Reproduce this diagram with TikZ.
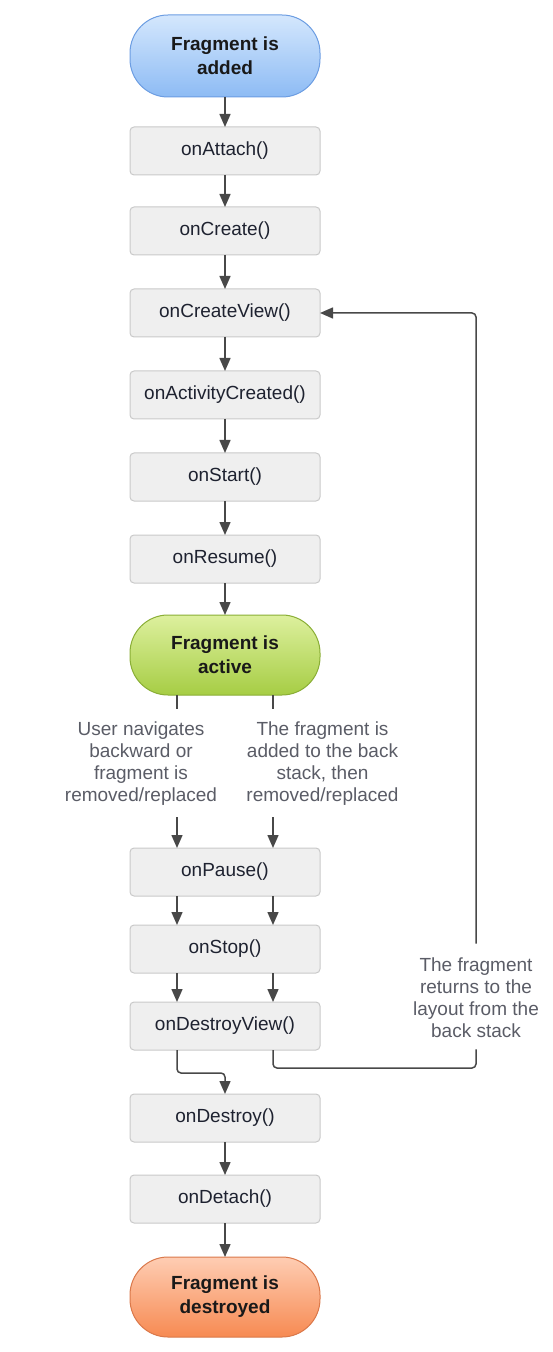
\documentclass[tikz,border=0pt]{standalone}
\usepackage{fontspec}
\setmainfont{Liberation Sans}
\usetikzlibrary{%
    arrows.meta,
    calc,
    positioning
}
\definecolor{boxfill}{HTML}{EFEFEF}
\definecolor{boxline}{HTML}{C9C9C9}
\definecolor{methodtext}{HTML}{1E2230}
\definecolor{flowline}{HTML}{484848}
\definecolor{notetext}{HTML}{5A5C66}
\definecolor{addedtop}{HTML}{D4E7FD}
\definecolor{addedbot}{HTML}{8DBBF4}
\definecolor{addedline}{HTML}{6C9DE2}
\definecolor{activetop}{HTML}{DDF09E}
\definecolor{activebot}{HTML}{A6CD44}
\definecolor{activeline}{HTML}{8AAE36}
\definecolor{destroyedtop}{HTML}{FECDB3}
\definecolor{destroyedbot}{HTML}{F78A52}
\definecolor{destroyedline}{HTML}{DA784A}
\tikzset{flowarrow/.style = {-{Triangle[length=6.5pt,width=5.5pt]}}}

\begin{document}
\begin{tikzpicture}[
    font=\fontsize{9.5}{11}\selectfont,
    every node/.style = {outer sep=0pt},
    method/.style = {draw=boxline, fill=boxfill, rounded corners=2pt, line width=0.5pt,
        minimum width=95pt, minimum height=24pt, inner sep=0pt, text=methodtext},
    state/.style = {rounded corners=19pt, line width=0.5pt, minimum width=95pt,
        minimum height=40pt, align=center, text=black!90,
        font=\fontsize{9.5}{12}\selectfont\bfseries},
    note/.style = {align=center, inner sep=0pt, text=notetext},
    flow/.style = {draw=flowline, line width=0.75pt}]
    \useasboundingbox (-112.5pt,28pt) rectangle (163.5pt,-648pt);

    % main column
    \node[state, top color=addedtop, bottom color=addedbot, draw=addedline,
        minimum height=41pt] (added) at (0,0) {Fragment is\\added};
    \node[method] (attach) [below=15pt of added] {onAttach()};
    \node[method] (create) [below=16pt of attach] {onCreate()};
    \node[method] (createView) [below=17pt of create] {onCreateView()};
    \node[method] (activityCreated) [below=17pt of createView] {onActivityCreated()};
    \node[method] (start) [below=17pt of activityCreated] {onStart()};
    \node[method] (resume) [below=17pt of start] {onResume()};
    \node[state, top color=activetop, bottom color=activebot, draw=activeline]
        (active) [below=16pt of resume] {Fragment is\\active};
    \node[method] (pause) [below=76.5pt of active] {onPause()};
    \node[method] (stop) [below=14.5pt of pause] {onStop()};
    \node[method] (destroyView) [below=14.5pt of stop] {onDestroyView()};
    \node[method] (destroy) [below=22pt of destroyView] {onDestroy()};
    \node[method] (detach) [below=16.5pt of destroy] {onDetach()};
    \node[state, top color=destroyedtop, bottom color=destroyedbot, draw=destroyedline]
        (destroyed) [below=17pt of detach] {Fragment is\\destroyed};

    % the two ways out of the active state
    \coordinate (laneL) at (-24pt,0);
    \coordinate (laneR) at (24pt,0);
    \node[note] (userText) at ($(active.south)+(-42pt,-34.25pt)$)
        {User navigates\\backward or\\fragment is\\removed/replaced};
    \node[note] (stackText) at ($(active.south)+(48.75pt,-34.25pt)$)
        {The fragment is\\added to the back\\stack, then\\removed/replaced};
    \node[note] (backText) at ($(stop.center)+(125.5pt,-24.25pt)$)
        {The fragment\\returns to the\\layout from the\\back stack};

    \foreach \from/\to in {added/attach, attach/create, create/createView,
        createView/activityCreated, activityCreated/start, start/resume,
        resume/active, destroy/detach, detach/destroyed}
        \draw[flow, flowarrow] (\from) -- (\to);

    \foreach \lane/\text in {laneL/userText, laneR/stackText} {
        \draw[flow] (active.south -| \lane) -- ($(\text.north -| \lane)+(0,6.5pt)$);
        \draw[flow, flowarrow] ($(\text.south -| \lane)+(0,-6pt)$) -- (pause.north -| \lane);
        \draw[flow, flowarrow] (pause.south -| \lane) -- (stop.north -| \lane);
        \draw[flow, flowarrow] (stop.south -| \lane) -- (destroyView.north -| \lane);
    }

    \draw[flow, flowarrow, rounded corners=2pt]
        (destroyView.south -| laneL) -- ++(0,-11.5pt) -| (destroy.north);

    % back stack loop
    \draw[flow, rounded corners=2pt]
        (destroyView.south -| laneR) -- ++(0,-9pt) -| ($(backText.south)+(0,-6pt)$);
    \draw[flow, flowarrow, rounded corners=2pt]
        ($(backText.north)+(0,7pt)$) |- (createView.east);
\end{tikzpicture}
\end{document}
